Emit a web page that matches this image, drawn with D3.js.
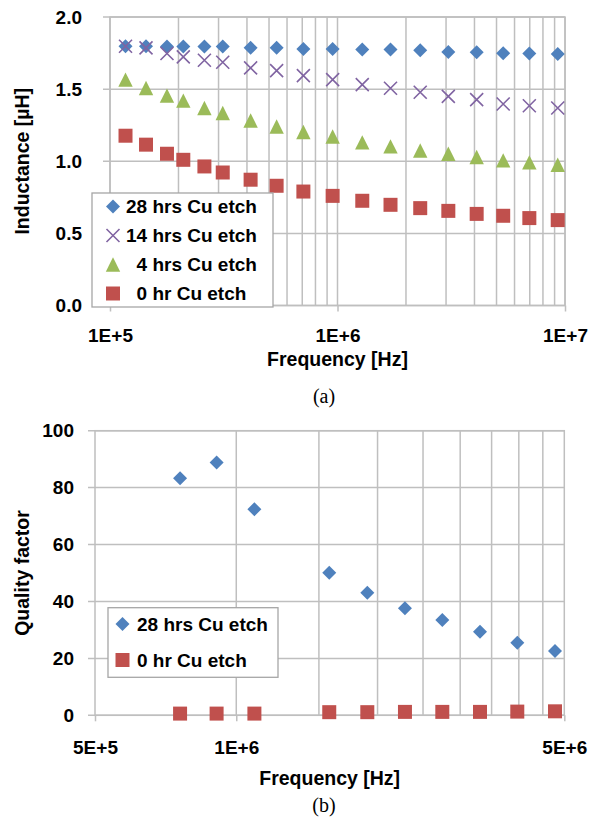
<!DOCTYPE html>
<html>
<head>
<meta charset="utf-8">
<script src="https://cdn.jsdelivr.net/npm/d3@7"></script>
<style>
	body { margin: 0; background: #fff; }
	text { font-family: "Liberation Sans", Arial, sans-serif; font-weight: bold; fill: #000; }
	.caption { font-family: "Liberation Serif", "Times New Roman", serif; font-weight: normal; }
</style>
</head>
<body>
<div id="chart"></div>
<script>
///////////////////////////////////////////////////////////////////////////
//////////////////////////// data /////////////////////////////////////////
///////////////////////////////////////////////////////////////////////////

// (a) inductance vs frequency
const freqA = [1.17e5, 1.44e5, 1.78e5, 2.1e5, 2.6e5, 3.13e5, 4.15e5, 5.4e5, 7.08e5,
	9.52e5, 1.285e6, 1.71e6, 2.31e6, 3.07e6, 4.09e6, 5.35e6, 6.97e6, 9.29e6];
const ind28 = [1.797, 1.797, 1.795, 1.795, 1.795, 1.795, 1.786, 1.786, 1.779,
	1.779, 1.774, 1.774, 1.769, 1.758, 1.755, 1.749, 1.747, 1.744];
const ind14 = [1.797, 1.786, 1.747, 1.724, 1.7, 1.686, 1.647, 1.628, 1.594,
	1.566, 1.531, 1.506, 1.478, 1.45, 1.427, 1.397, 1.385, 1.369];
const ind4 = [1.566, 1.508, 1.455, 1.42, 1.369, 1.335, 1.283, 1.241, 1.203,
	1.172, 1.131, 1.103, 1.075, 1.052, 1.029, 1.006, 0.992, 0.976];
const ind0 = [1.177, 1.115, 1.052, 1.01, 0.964, 0.922, 0.872, 0.83, 0.79,
	0.76, 0.726, 0.698, 0.675, 0.656, 0.635, 0.622, 0.606, 0.592];
const labelsA = ["28 hrs Cu etch", "14 hrs Cu etch", "\u20074 hrs Cu etch", "\u20070 hr Cu etch"];
const yTicksA = [0, 0.5, 1, 1.5, 2];
const xTicksA = [1e5, 1e6, 1e7];

// (b) quality factor vs frequency
const freqB = [7.59e5, 9.08e5, 1.093e6, 1.578e6, 1.902e6, 2.288e6, 2.748e6, 3.306e6, 3.97e6, 4.777e6];
const q28 = [83.3, 88.8, 72.4, 50.1, 43.1, 37.6, 33.5, 29.4, 25.5, 22.6];
const q0 = [0.6, 0.6, 0.6, 1.1, 1.1, 1.2, 1.2, 1.2, 1.3, 1.4];
const labelsB = ["28 hrs Cu etch", "0 hr Cu etch"];
const yTicksB = [0, 20, 40, 60, 80, 100];
const xTicksB = [5e5, 1e6, 5e6];
const gridStepsB = [2, 3, 4, 5, 6, 7, 8, 9]; // minor lines at 5E+5 x k

const blue = "#4F81BD", purple = "#8064A2", green = "#9BBB59", red = "#C0504D";
const gridColor = "#BFBFBF";

///////////////////////////////////////////////////////////////////////////
//////////////////////////// markers //////////////////////////////////////
///////////////////////////////////////////////////////////////////////////

const shapes = {
	diamond: (r) => `M0,${-r}L${r},0L0,${r}L${-r},0Z`,
	square: (r) => `M${-r},${-r}H${r}V${r}H${-r}Z`,
	triangle: (r) => `M0,${-r}L${r},${r}L${-r},${r}Z`,
	cross: (r) => `M${-r},${-r}L${r},${r}M${-r},${r}L${r},${-r}`
};
const sizes = { diamond: 7, square: 7, triangle: 7.2, cross: 6.5 };

function drawMarker(sel, type, color) {
	sel.attr("d", shapes[type](sizes[type]));
	if (type === "cross") {
		sel.attr("fill", "none").attr("stroke", color).attr("stroke-width", 1.6);
	} else {
		sel.attr("fill", color);
	}
}

const fmtE = (d) => {
	const e = Math.floor(Math.log10(d) + 1e-9);
	return Math.round(d / Math.pow(10, e)) + "E+" + e;
};

///////////////////////////////////////////////////////////////////////////
//////////////////////////// svg //////////////////////////////////////////
///////////////////////////////////////////////////////////////////////////

const svg = d3.select("#chart").append("svg")
	.attr("width", 591).attr("height", 822);

function panel(cfg) {
	const x = cfg.x, y = cfg.y;
	const [x0, x1] = x.range();
	const [y0, y1] = y.range();
	const g = svg.append("g");

	// vertical gridlines
	g.selectAll(".vg").data(cfg.grid).enter().append("line")
		.attr("x1", (d) => x(d)).attr("x2", (d) => x(d))
		.attr("y1", y0).attr("y2", y1)
		.attr("stroke", gridColor).attr("stroke-width", 1.5);

	// horizontal gridlines (with outside tick)
	g.selectAll(".hg").data(cfg.yTicks).enter().append("line")
		.attr("x1", x0 - 7).attr("x2", x1)
		.attr("y1", (d) => y(d)).attr("y2", (d) => y(d))
		.attr("stroke", gridColor).attr("stroke-width", 1.5);

	g.append("rect")
		.attr("x", x0).attr("y", y1)
		.attr("width", x1 - x0).attr("height", y0 - y1)
		.attr("fill", "none").attr("stroke", gridColor).attr("stroke-width", 1.5);

	// axes
	const ax = g.append("g").attr("transform", `translate(0,${y0})`)
		.call(d3.axisBottom(x).tickValues(cfg.xTicks).tickFormat(fmtE)
			.tickSize(6).tickSizeOuter(0).tickPadding(cfg.xPad));
	const ay = g.append("g").attr("transform", `translate(${x0},0)`)
		.call(d3.axisLeft(y).tickValues(cfg.yTicks).tickFormat(cfg.yFmt)
			.tickSize(0).tickPadding(cfg.yPad));
	[ax, ay].forEach((a) => {
		a.select(".domain").remove();
		a.selectAll("line").attr("stroke", gridColor).attr("stroke-width", 1.5);
		a.selectAll("text").attr("font-size", 19).attr("font-family", null).attr("fill", "#000");
		a.attr("font-family", null).attr("font-size", null);
	});

	// points
	cfg.series.forEach((s) => {
		g.append("g").selectAll("path").data(s.values).enter().append("path")
			.attr("transform", (d, i) => `translate(${x(cfg.freq[i])},${y(d)})`)
			.call(drawMarker, s.shape, s.color);
	});

	// titles
	g.append("text")
		.attr("x", (x0 + x1) / 2).attr("y", cfg.xTitleY).attr("dy", "0.35em")
		.attr("text-anchor", "middle").attr("font-size", 19.5).text("Frequency [Hz]");
	g.append("text")
		.attr("transform", `translate(22,${(y0 + y1) / 2}) rotate(-90)`)
		.attr("dy", "0.35em").attr("text-anchor", "middle").attr("font-size", 19.5)
		.text(cfg.yTitle);
	g.append("text").attr("class", "caption")
		.attr("x", 324).attr("y", cfg.captionY).attr("dy", "0.35em")
		.attr("text-anchor", "middle").attr("font-size", 20).text(cfg.caption);

	// legend
	const L = cfg.legend;
	const lg = g.append("g");
	lg.append("rect")
		.attr("x", L.x).attr("y", L.y).attr("width", L.w).attr("height", L.h)
		.attr("fill", "#fff").attr("stroke", "#A6A6A6").attr("stroke-width", 1.3);
	cfg.series.forEach((s, i) => {
		const yy = L.y + L.first + i * L.step;
		lg.append("path")
			.attr("transform", `translate(${L.x + L.mx},${yy})`)
			.call(drawMarker, s.shape, s.color);
		lg.append("text")
			.attr("x", L.x + L.tx).attr("y", yy).attr("dy", "0.36em")
			.attr("font-size", 19).text(s.label);
	});
}

///////////////////////////////////////////////////////////////////////////
//////////////////////////// (a) //////////////////////////////////////////
///////////////////////////////////////////////////////////////////////////

const xA = d3.scaleLog().domain([1e5, 1e7]).range([110, 565]);
panel({
	x: xA,
	y: d3.scaleLinear().domain([0, 2]).range([305.5, 17]),
	freq: freqA,
	grid: xA.ticks(),
	xTicks: xTicksA,
	yTicks: yTicksA,
	yFmt: d3.format(".1f"),
	xPad: 17,
	yPad: 28,
	xTitleY: 359,
	yTitle: "Inductance [\u00b5H]",
	caption: "(a)",
	captionY: 396,
	series: [
		{ values: ind28, shape: "diamond", color: blue, label: labelsA[0] },
		{ values: ind14, shape: "cross", color: purple, label: labelsA[1] },
		{ values: ind4, shape: "triangle", color: green, label: labelsA[2] },
		{ values: ind0, shape: "square", color: red, label: labelsA[3] }
	],
	legend: { x: 92, y: 193, w: 181, h: 114, first: 13.5, step: 29, mx: 21, tx: 34 }
});

///////////////////////////////////////////////////////////////////////////
//////////////////////////// (b) //////////////////////////////////////////
///////////////////////////////////////////////////////////////////////////

panel({
	x: d3.scaleLog().domain([5e5, 5e6]).range([95, 564.3]),
	y: d3.scaleLinear().domain([0, 100]).range([715.3, 430.7]),
	freq: freqB,
	grid: gridStepsB.map((k) => 5e5 * k),
	xTicks: xTicksB,
	yTicks: yTicksB,
	yFmt: d3.format("d"),
	xPad: 19,
	yPad: 21,
	xTitleY: 778,
	yTitle: "Quality factor",
	caption: "(b)",
	captionY: 805,
	series: [
		{ values: q28, shape: "diamond", color: blue, label: labelsB[0] },
		{ values: q0, shape: "square", color: red, label: labelsB[1] }
	],
	legend: { x: 108, y: 607.7, w: 170, h: 69.6, first: 16.3, step: 36, mx: 14.5, tx: 29 }
});
</script>
</body>
</html>
